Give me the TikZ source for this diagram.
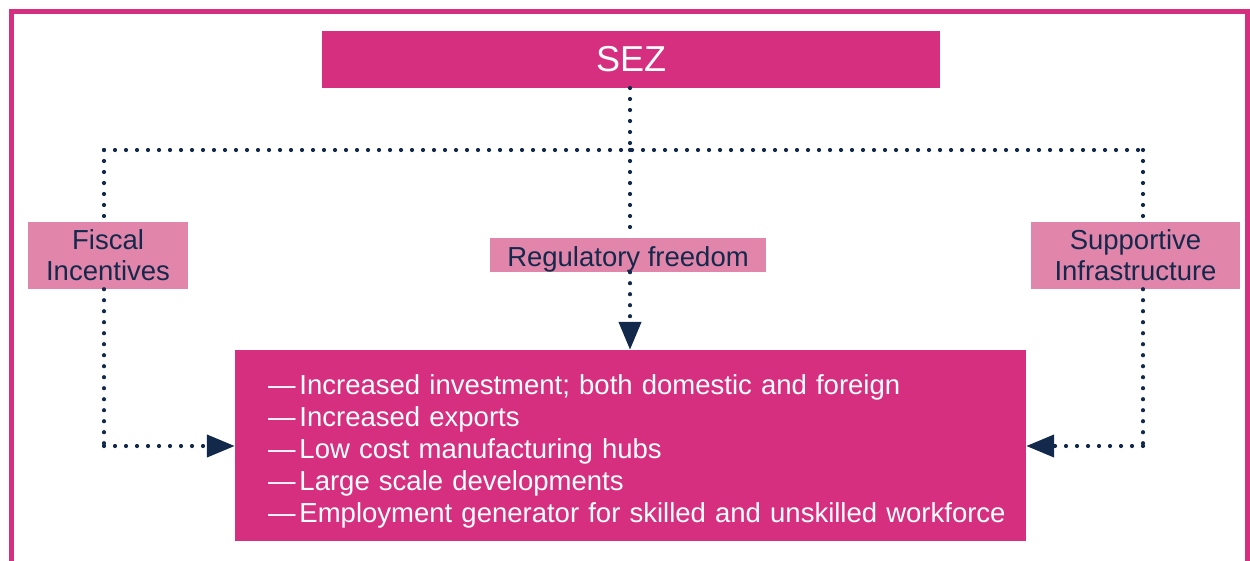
\documentclass[tikz,border=0pt]{standalone}
\usepackage{fontspec}
\setmainfont{Liberation Sans}
\usetikzlibrary{arrows.meta}
\definecolor{magentaC}{HTML}{D62F80}
\definecolor{pinkC}{HTML}{E285AA}
\definecolor{navyC}{HTML}{13294B}
\newcommand{\dashitem}[1]{\mbox{—\hspace{4pt}#1}}
\tikzset{
  darkbox/.style={rectangle, fill=magentaC, text=white, inner sep=0pt},
  lightbox/.style={rectangle, fill=pinkC, text=navyC, inner sep=0pt, align=center, font=\fontsize{27.5}{31}\selectfont},
  dotline/.style={draw=navyC, line width=4.2pt, line cap=round, dash pattern=on 0pt off 11pt},
  tipped/.style={dotline, -{Triangle[length=28pt,width=22pt,line cap=butt,sep=0pt]}, shorten >=0pt},
}
\begin{document}
\begin{tikzpicture}[x=1pt,y=-1pt]
\useasboundingbox (0,0) rectangle (1250,560);
\draw[magentaC, line width=5pt] (11.5,11.5) rectangle (1247.5,620);

\node[darkbox, minimum width=618pt, minimum height=57pt, font=\fontsize{36}{40}\selectfont] (sez) at (631,59.5) {SEZ};
\node[lightbox, minimum width=160pt, minimum height=67pt] (fiscal) at (108,255.5) {Fiscal\\Incentives};
\node[lightbox, minimum width=276pt, minimum height=34pt, text height=24pt, text depth=2pt] (reg) at (628,255) {Regulatory freedom};
\node[lightbox, minimum width=209pt, minimum height=67pt] (supp) at (1135.5,255.5) {Supportive\\Infrastructure};
\node[darkbox, minimum width=791pt, minimum height=191pt, align=left, text width=725pt, inner xsep=33pt, font=\fontsize{27.5}{32}\selectfont] (main) at (630.5,445.5) {%
\dashitem{\rule{0pt}{32pt}Increased investment; both domestic and foreign}\\
\dashitem{Increased exports}\\
\dashitem{Low cost manufacturing hubs}\\
\dashitem{Large scale developments}\\
\dashitem{Employment generator for skilled and unskilled workforce}};

\coordinate (hub) at (630,150);
\coordinate (lc) at (104,150);
\coordinate (rc) at (1143,150);
\coordinate (lb) at (104,446);
\coordinate (rb) at (1143,446);

\draw[dotline] (630,88) -- (hub);
\draw[dotline] (lc) -- (rc);
\draw[dotline] (hub) -- (hub |- reg.north);
\draw[tipped] (hub |- reg.south) -- (hub |- main.north);
\draw[dotline] (lc) -- (lc |- fiscal.north);
\draw[dotline] (rc) -- (rc |- supp.north);
\draw[dotline] (lc |- fiscal.south) -- (lb);
\draw[tipped] (lb) -- (main.west |- lb);
\draw[dotline] (rc |- supp.south) -- (rb);
\draw[tipped] (rb) -- (main.east |- rb);
\end{tikzpicture}
\end{document}
